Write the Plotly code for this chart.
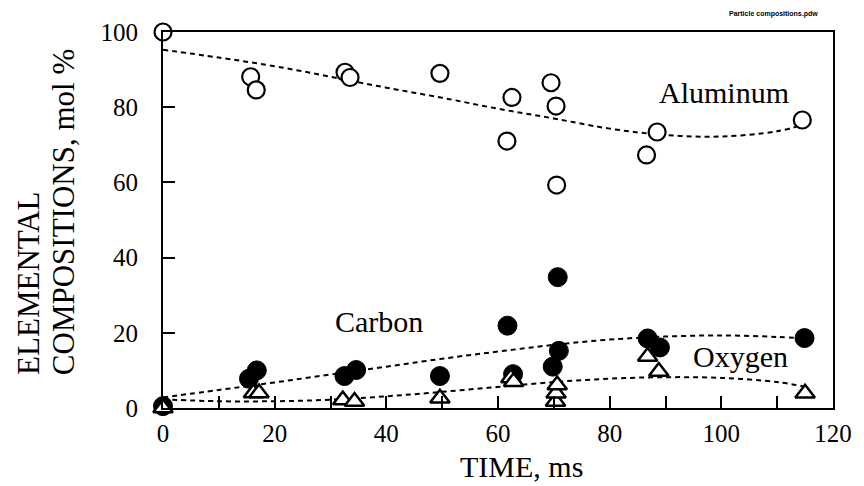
import plotly.graph_objects as go

# ---- data ----
al_t = [0, 15.7, 16.7, 32.6, 33.5, 49.6, 61.6, 62.5, 69.5, 70.4, 70.5, 86.6, 88.5, 114.5]
al_y = [100, 88.1, 84.6, 89.3, 87.9, 89.0, 71.0, 82.6, 86.5, 80.3, 59.3, 67.3, 73.4, 76.6]

c_t = [0, 15.4, 16.8, 32.5, 34.6, 49.6, 61.7, 62.7, 69.8, 70.9, 70.7, 86.8, 89.0, 114.9]
c_y = [0.5, 7.8, 10.0, 8.5, 10.1, 8.5, 21.9, 9.0, 11.0, 15.2, 34.8, 18.5, 16.1, 18.6]

o_t = [0, 16.2, 17.2, 32.2, 34.3, 49.6, 62.3, 62.8, 70.3, 70.4, 70.6, 86.8, 88.8, 115.0]
o_y = [0, 4.0, 4.0, 2.1, 1.7, 2.6, 8.0, 7.0, 1.7, 3.9, 6.1, 13.7, 9.7, 3.9]

fit_t = [0, 10, 20, 30, 40, 50, 60, 70, 80, 90, 100, 110, 115]
al_fit = [95.3, 93.2, 90.9, 88.1, 85.2, 82.5, 79.6, 77.0, 74.3, 72.6, 72.2, 73.6, 75.5]
c_fit = [2.8, 4.8, 6.8, 8.9, 11.0, 13.1, 15.0, 16.8, 18.2, 19.0, 19.3, 18.9, 18.5]
o_fit = [2.3, 1.8, 1.8, 2.2, 3.1, 4.3, 5.6, 6.9, 7.8, 8.2, 8.0, 6.9, 5.7]

x_ticks = [0, 20, 40, 60, 80, 100, 120]
y_ticks = [0, 20, 40, 60, 80, 100]

SERIF = "Liberation Serif, Times New Roman, serif"
dash = "5px,4px"

fig = go.Figure()
for fy in (al_fit, c_fit, o_fit):
    fig.add_trace(go.Scatter(x=fit_t, y=fy, mode="lines", line_shape="spline",
                             line=dict(color="black", width=2, dash=dash),
                             hoverinfo="skip", showlegend=False))

fig.add_trace(go.Scatter(x=al_t, y=al_y, mode="markers", name="Aluminum",
                         marker=dict(symbol="circle", size=17, color="white",
                                     line=dict(color="black", width=2.2)),
                         cliponaxis=False, showlegend=False))
fig.add_trace(go.Scatter(x=c_t, y=c_y, mode="markers", name="Carbon",
                         marker=dict(symbol="circle", size=19, color="black",
                                     line=dict(color="black", width=1)),
                         cliponaxis=False, showlegend=False))
fig.add_trace(go.Scatter(x=o_t, y=o_y, mode="markers", name="Oxygen",
                         marker=dict(symbol="triangle-up", size=17, color="white",
                                     line=dict(color="black", width=2.5)),
                         cliponaxis=False, showlegend=False))

fig.update_layout(
    width=864, height=486,
    margin=dict(l=163, r=24, t=32, b=78),
    paper_bgcolor="white", plot_bgcolor="white",
    font=dict(family=SERIF, color="black"),
    xaxis=dict(range=[0, 120], tickvals=x_ticks, ticks="inside", ticklen=12,
               tickwidth=1.5, tickcolor="black",
               minor=dict(dtick=10, ticks="inside", ticklen=12, tickwidth=1.5,
                          tickcolor="black"),
               showline=True, linecolor="black", linewidth=2, mirror=True,
               showgrid=False, zeroline=False,
               tickfont=dict(family=SERIF, size=25), ticklabelstandoff=2),
    yaxis=dict(range=[0, 100], tickvals=y_ticks, ticks="inside", ticklen=12,
               tickwidth=1.5, tickcolor="black",
               showline=True, linecolor="black", linewidth=2, mirror=True,
               showgrid=False, zeroline=False,
               tickfont=dict(family=SERIF, size=25), ticklabelstandoff=18),
)

ann = [
    dict(text="TIME, ms", x=0.535, y=-0.155, xref="paper", yref="paper",
         xanchor="center", yanchor="middle", font=dict(size=30)),
    dict(text="ELEMENTAL", x=-0.2009, y=0.0824, xref="paper", yref="paper",
         textangle=-90, xanchor="center", yanchor="bottom", font=dict(size=31)),
    dict(text="COMPOSITIONS, mol %", x=-0.149, y=0.0824, xref="paper", yref="paper",
         textangle=-90, xanchor="center", yanchor="bottom", font=dict(size=31)),
    dict(text="Aluminum", x=100.5, y=84, xref="x", yref="y",
         xanchor="center", yanchor="middle", font=dict(size=30)),
    dict(text="Carbon", x=38.7, y=22.9, xref="x", yref="y",
         xanchor="center", yanchor="middle", font=dict(size=30)),
    dict(text="Oxygen", x=103.4, y=13.8, xref="x", yref="y",
         xanchor="center", yanchor="middle", font=dict(size=30)),
    dict(text="<b>Particle compositions.pdw</b>", x=0.911, y=1.048, xref="paper", yref="paper",
         xanchor="center", yanchor="middle",
         font=dict(family="Liberation Sans, Arial, sans-serif", size=7)),
]
for a in ann:
    a["showarrow"] = False
    fig.add_annotation(**a)

fig.write_html("out.html")
